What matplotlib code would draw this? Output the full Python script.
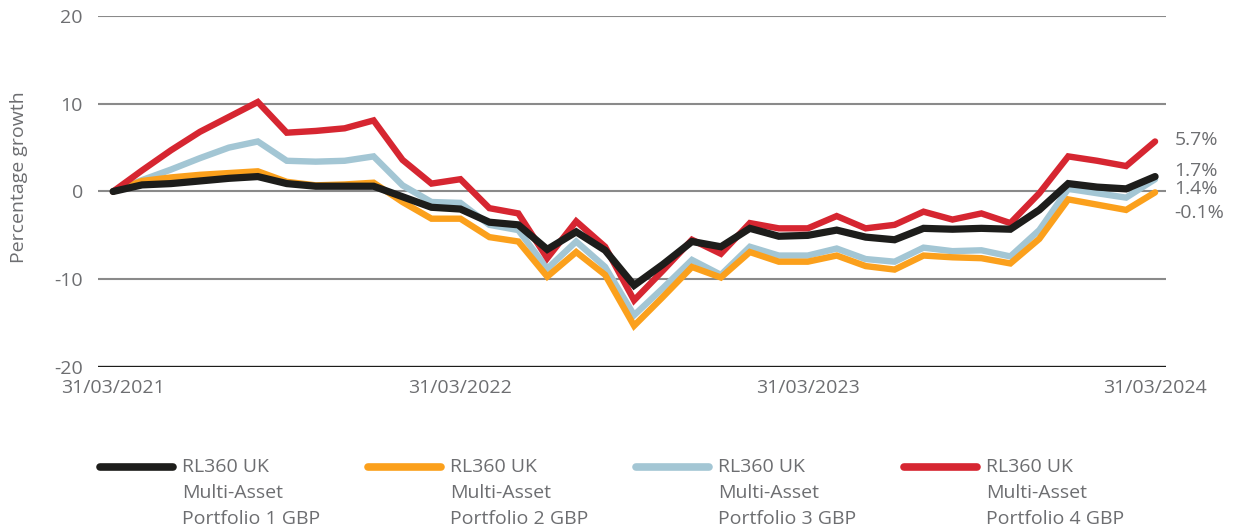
import matplotlib
matplotlib.use("Agg")
import matplotlib.pyplot as plt
from matplotlib.lines import Line2D
import numpy as np

# monthly percentage growth, 31/03/2021 .. 31/03/2024
tick_labels = ["31/03/2021", "31/03/2022", "31/03/2023", "31/03/2024"]
tick_months = [0, 12, 24, 36]

p1 = [0, 0.75, 0.9, 1.2, 1.5, 1.7, 0.9, 0.6, 0.6, 0.6, -0.6, -1.8, -2.0, -3.5, -3.8, -6.6,
      -4.6, -6.7, -10.7, -8.3, -5.7, -6.3, -4.2, -5.1, -5.0, -4.4, -5.2, -5.5, -4.2, -4.3,
      -4.2, -4.3, -2.1, 0.9, 0.5, 0.3, 1.7]
p2 = [0, 1.2, 1.6, 1.9, 2.1, 2.3, 1.1, 0.7, 0.8, 1.0, -1.2, -3.1, -3.1, -5.2, -5.7, -9.7,
      -6.9, -9.5, -15.3, -12.0, -8.6, -9.8, -6.9, -8.0, -8.0, -7.3, -8.5, -8.9, -7.3, -7.5,
      -7.6, -8.2, -5.4, -0.9, -1.5, -2.1, -0.1]
p3 = [0, 1.3, 2.5, 3.8, 5.0, 5.7, 3.5, 3.4, 3.5, 4.0, 0.7, -1.2, -1.3, -3.8, -4.4, -8.8,
      -5.7, -8.6, -14.1, -11.0, -7.8, -9.5, -6.3, -7.3, -7.3, -6.5, -7.7, -8.0, -6.4, -6.8,
      -6.7, -7.4, -4.4, 0.3, -0.2, -0.7, 1.4]
p4 = [0, 2.4, 4.7, 6.8, 8.5, 10.2, 6.7, 6.9, 7.2, 8.1, 3.6, 0.9, 1.4, -1.9, -2.5, -7.6,
      -3.4, -6.3, -12.4, -9.0, -5.5, -7.1, -3.6, -4.2, -4.2, -2.8, -4.2, -3.8, -2.3, -3.2,
      -2.5, -3.6, -0.2, 4.0, 3.5, 2.9, 5.7]

names = ["RL360 UK\nMulti-Asset\nPortfolio 1 GBP", "RL360 UK\nMulti-Asset\nPortfolio 2 GBP",
         "RL360 UK\nMulti-Asset\nPortfolio 3 GBP", "RL360 UK\nMulti-Asset\nPortfolio 4 GBP"]
end_labels = ["1.7%", "-0.1%", "1.4%", "5.7%"]

colors = ["#1d1d1b", "#fba01c", "#a3c6d4", "#d62631"]
widths = [5.2, 4.6, 4.6, 4.6]
zorders = [6, 4, 3, 5]
label_shift = [4, -15, -7, 1]   # points, keeps end labels apart

grey = "#6d6e71"
plt.rcParams["font.family"] = ["Open Sans", "DejaVu Sans"]
plt.rcParams["axes.unicode_minus"] = False

fig = plt.figure(figsize=(12.38, 5.26), dpi=100)
ax = fig.add_axes([0.0792, 0.3023, 0.8627, 0.6673])

series = [p1, p2, p3, p4]
x = np.arange(len(p1))
for s, c, w, z in zip(series, colors, widths, zorders):
    ax.plot(x, s, color=c, lw=w, zorder=z, solid_joinstyle="miter", solid_capstyle="round")

for s, c, lab, dy in zip(series, colors, end_labels, label_shift):
    ax.annotate(lab, xy=(x[-1], s[-1]), xytext=(14, dy), textcoords="offset points",
                ha="left", va="center", fontsize=14, color=grey, annotation_clip=False)

ax.set_xlim(-0.52, 36.38)
ax.set_ylim(-20, 20)
ax.set_yticks([-20, -10, 0, 10, 20])
ax.set_xticks(tick_months)
ax.set_xticklabels(tick_labels)
for v in [-10, 0, 10, 20]:
    ax.axhline(v, color="#8a8a8a", lw=1.5, zorder=1)
ax.axhline(-20, color="#1d1d1b", lw=2.4, zorder=1)
for sp in ax.spines.values():
    sp.set_visible(False)
ax.tick_params(axis="y", length=0, pad=11, labelsize=14, labelcolor=grey)
ax.tick_params(axis="x", length=0, pad=9, labelsize=14, labelcolor=grey)
ax.set_ylabel("Percentage growth", fontsize=14, color=grey)
ax.yaxis.set_label_coords(-0.066, 0.54)

# legend below the chart, handle level with first text line
for i, (c, n) in enumerate(zip(colors, names)):
    x0 = (100 + 268 * i) / 1238
    y0 = 1 - 467 / 526
    fig.add_artist(Line2D([x0, x0 + 73 / 1238], [y0, y0], color=c, lw=5.5,
                          solid_capstyle="round", transform=fig.transFigure))
    fig.text(x0 + 82 / 1238, y0 + 9 / 526, n, ha="left", va="top", fontsize=14,
             color=grey, linespacing=1.58)

fig.savefig("out.png", dpi=100)
